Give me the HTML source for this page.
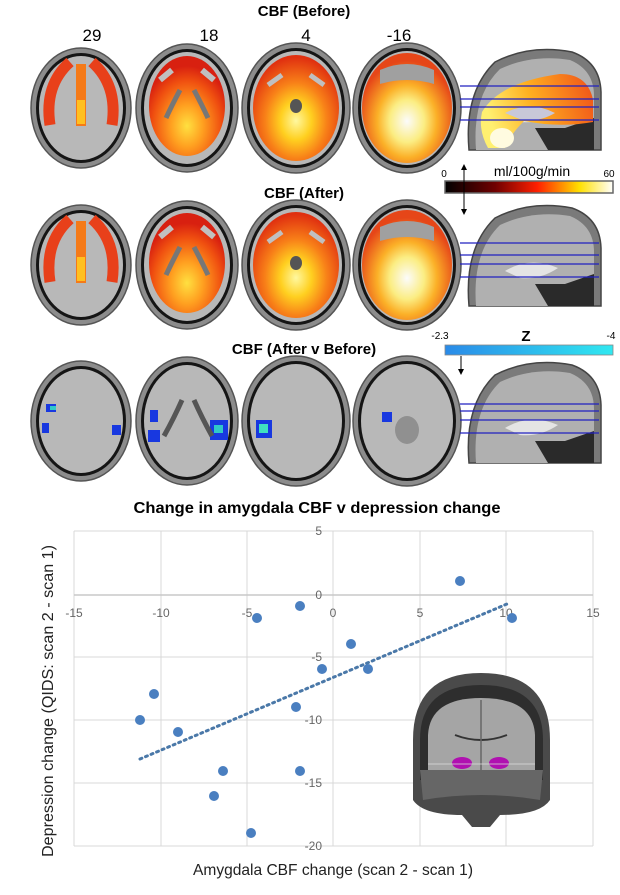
<!DOCTYPE html>
<html><head><meta charset="utf-8"><style>
html,body{margin:0;padding:0;background:#fff;}
svg{display:block;}
</style></head><body>
<svg width="620" height="895" viewBox="0 0 620 895" xmlns="http://www.w3.org/2000/svg" font-family="Liberation Sans, sans-serif">
<defs>
<radialGradient id="hot2" cx="0.5" cy="0.7" r="0.6"><stop offset="0" stop-color="#ffe040"/><stop offset="0.35" stop-color="#ffa020"/><stop offset="0.75" stop-color="#f05010"/><stop offset="1" stop-color="#d82010"/></radialGradient>
<radialGradient id="hot3" cx="0.5" cy="0.62" r="0.6"><stop offset="0" stop-color="#fff8a0"/><stop offset="0.3" stop-color="#ffd020"/><stop offset="0.6" stop-color="#f88018"/><stop offset="1" stop-color="#e03010"/></radialGradient>
<radialGradient id="hot4" cx="0.5" cy="0.62" r="0.55"><stop offset="0" stop-color="#ffffff"/><stop offset="0.35" stop-color="#fff080"/><stop offset="0.6" stop-color="#ffb020"/><stop offset="1" stop-color="#e84010"/></radialGradient>
<linearGradient id="cbar" x1="0" x2="1"><stop offset="0" stop-color="#000"/><stop offset="0.3" stop-color="#700000"/><stop offset="0.55" stop-color="#ff2000"/><stop offset="0.8" stop-color="#ffe000"/><stop offset="1" stop-color="#fff"/></linearGradient>
<linearGradient id="zbar" x1="0" x2="1"><stop offset="0" stop-color="#2a8ae8"/><stop offset="1" stop-color="#30e8f0"/></linearGradient>
<linearGradient id="sagHot" x1="0" x2="1" y1="0.2" y2="0"><stop offset="0" stop-color="#fff070"/><stop offset="0.4" stop-color="#ffb020"/><stop offset="1" stop-color="#f05018"/></linearGradient>
</defs>

<g font-weight="bold" font-size="15" text-anchor="middle" fill="#000">
<text x="304" y="16">CBF (Before)</text>
<text x="304" y="198">CBF (After)</text>
<text x="304" y="354">CBF (After v Before)</text>
</g>
<g font-size="17" text-anchor="middle" fill="#000">
<text x="92" y="41">29</text><text x="209" y="41">18</text><text x="306" y="41">4</text><text x="399" y="41">-16</text>
</g>

<g id="r1">
 <g stroke="#555" stroke-width="1.5">
  <ellipse cx="81" cy="108" rx="50" ry="60" fill="#8c8c8c"/>
  <ellipse cx="187" cy="108" rx="51" ry="64" fill="#8c8c8c"/>
  <ellipse cx="296" cy="108" rx="54" ry="65" fill="#8c8c8c"/>
  <ellipse cx="407" cy="108" rx="54" ry="65" fill="#8c8c8c"/>
 </g>
 <g fill="#151515">
  <ellipse cx="81" cy="108" rx="45" ry="55"/><ellipse cx="187" cy="108" rx="46" ry="59"/>
  <ellipse cx="296" cy="108" rx="49" ry="60"/><ellipse cx="407" cy="108" rx="49" ry="60"/>
 </g>
 <g fill="#b8b8b8">
  <ellipse cx="81" cy="108" rx="42" ry="52"/><ellipse cx="187" cy="108" rx="43" ry="56"/>
  <ellipse cx="296" cy="108" rx="46" ry="57"/><ellipse cx="407" cy="108" rx="46" ry="57"/>
 </g>
</g>
<use href="#r1" y="157"/>
<use href="#r1" y="313"/>

<g id="hot">
 <path d="M50 125 Q44 85 70 62 M112 125 Q118 85 92 62" stroke="#e8401a" stroke-width="11" fill="none"/>
 <rect x="76" y="64" width="10" height="62" fill="#f57a18"/>
 <rect x="77" y="100" width="8" height="24" fill="#ffc020"/>
 <ellipse cx="187" cy="106" rx="38" ry="50" fill="url(#hot2)"/>
 <path d="M180 90 q-8 15 -14 28 M194 90 q8 15 14 28" stroke="#777" stroke-width="5" fill="none"/>
 <path d="M172 70 l-12 10 M202 70 l12 10" stroke="#c0c0c0" stroke-width="6"/>
 <ellipse cx="296" cy="108" rx="43" ry="53" fill="url(#hot3)"/>
 <ellipse cx="296" cy="106" rx="6" ry="7" fill="#555"/>
 <path d="M282 75 l-14 10 M310 75 l14 10" stroke="#c0c0c0" stroke-width="5"/>
 <ellipse cx="407" cy="108" rx="45" ry="55" fill="url(#hot4)" opacity="0.95"/>
 <path d="M380 70 q27 -12 54 0 l0 14 q-27 -8 -54 0z" fill="#a0a0a0"/>
</g>
<use href="#hot" y="157"/>

<g fill="#1838e0">
 <rect x="46" y="404" width="10" height="8"/><rect x="50" y="406" width="6" height="4" fill="#30c8c8"/>
 <rect x="42" y="423" width="7" height="10"/><rect x="112" y="425" width="9" height="10"/>
 <rect x="150" y="410" width="8" height="12"/><rect x="148" y="430" width="12" height="12"/>
 <rect x="210" y="420" width="18" height="20"/><rect x="214" y="425" width="9" height="8" fill="#30c8c8"/>
 <rect x="256" y="420" width="16" height="18"/><rect x="259" y="424" width="9" height="9" fill="#40e0c0"/>
 <rect x="382" y="412" width="10" height="10"/>
</g>
<g fill="#6a6a6a">
 <path d="M182 400 q-8 18 -18 36 M194 400 q8 18 18 36" stroke="#555" stroke-width="5" fill="none"/>
 <ellipse cx="407" cy="430" rx="12" ry="14" fill="#909090"/>
</g>

<g id="sag">
 <path d="M469 150 Q464 92 495 62 Q530 44 572 52 Q600 62 601 92 L601 150 Z" fill="#7a7a7a" stroke="#444" stroke-width="1.5"/>
 <path d="M476 150 Q472 96 500 69 Q532 54 570 60 Q594 70 594 96 L594 150 Z" fill="#b0b0b0"/>
 <path d="M505 115 Q530 100 558 112 Q540 124 520 122 Z" fill="#e4e4e4"/>
 <path d="M535 128 L548 150 L594 150 L594 118 L565 128 Z" fill="#2a2a2a"/>
</g>
<use href="#sag" y="156"/>
<use href="#sag" y="313"/>
<g id="sagHot">
 <path d="M482 112 Q500 82 560 74 Q588 74 593 100 L593 122 Q560 128 524 121 Q510 135 505 148 L488 148 Q478 130 482 112Z" fill="url(#sagHot)"/>
 <path d="M505 113 Q530 100 555 113 Q540 122 522 120 Z" fill="#c8c8d8"/>
 <ellipse cx="502" cy="138" rx="12" ry="10" fill="#fffbe0"/>
</g>
<use href="#sagHot" y="156"/>
<g stroke="#2020c0" stroke-width="1.3">
 <line x1="460" y1="86" x2="599" y2="86"/><line x1="460" y1="99" x2="599" y2="99"/><line x1="460" y1="107" x2="599" y2="107"/><line x1="460" y1="120" x2="599" y2="120"/>
 <line x1="460" y1="243" x2="599" y2="243"/><line x1="460" y1="255" x2="599" y2="255"/><line x1="460" y1="264" x2="599" y2="264"/><line x1="460" y1="277" x2="599" y2="277"/>
 <line x1="460" y1="404" x2="599" y2="404"/><line x1="460" y1="411" x2="599" y2="411"/><line x1="460" y1="420" x2="599" y2="420"/><line x1="460" y1="433" x2="599" y2="433"/>
</g>

<rect x="445" y="181" width="168" height="12" fill="url(#cbar)" stroke="#666" stroke-width="1.5"/>
<text x="444" y="177" font-size="10" text-anchor="middle">0</text>
<text x="532" y="176" font-size="14" text-anchor="middle">ml/100g/min</text>
<text x="609" y="177" font-size="10" text-anchor="middle">60</text>
<line x1="464" y1="168" x2="464" y2="212" stroke="#000" stroke-width="1"/>
<path d="M461 170 L464 164 L467 170Z M461 209 L464 215 L467 209Z" fill="#000"/>
<rect x="445" y="345" width="168" height="10" fill="url(#zbar)" stroke="#888" stroke-width="0.8"/>
<text x="440" y="339" font-size="10" text-anchor="middle">-2.3</text>
<text x="526" y="341" font-size="15" font-weight="bold" text-anchor="middle">Z</text>
<text x="611" y="339" font-size="10" text-anchor="middle">-4</text>
<line x1="461" y1="356" x2="461" y2="372" stroke="#000"/>
<path d="M458 369 L461 375 L464 369Z" fill="#000"/>

<text x="317" y="513" font-size="16" font-weight="bold" text-anchor="middle" textLength="367" lengthAdjust="spacingAndGlyphs">Change in amygdala CBF v depression change</text>
<g stroke="#d9d9d9" stroke-width="1">
 <line x1="74" y1="531" x2="593" y2="531"/><line x1="74" y1="657" x2="593" y2="657"/><line x1="74" y1="720" x2="593" y2="720"/><line x1="74" y1="783" x2="593" y2="783"/><line x1="74" y1="846" x2="593" y2="846"/>
 <line x1="74" y1="531" x2="74" y2="846"/><line x1="161" y1="531" x2="161" y2="846"/><line x1="247" y1="531" x2="247" y2="846"/><line x1="333" y1="531" x2="333" y2="846"/><line x1="420" y1="531" x2="420" y2="846"/><line x1="506" y1="531" x2="506" y2="846"/><line x1="593" y1="531" x2="593" y2="846"/>
</g>
<line x1="74" y1="595" x2="593" y2="595" stroke="#c8c8c8" stroke-width="1.5"/>
<g font-size="12" fill="#666" text-anchor="middle">
 <text x="74" y="617">-15</text><text x="161" y="617">-10</text><text x="247" y="617">-5</text><text x="333" y="617">0</text><text x="420" y="617">5</text><text x="506" y="617">10</text><text x="593" y="617">15</text>
</g>
<g font-size="12" fill="#666" text-anchor="end">
 <text x="322" y="535">5</text><text x="322" y="599">0</text><text x="322" y="661">-5</text><text x="322" y="724">-10</text><text x="322" y="787">-15</text><text x="322" y="850">-20</text>
</g>
<line x1="140" y1="759" x2="507" y2="604" stroke="#4a78a8" stroke-width="3" stroke-dasharray="2 4" stroke-linecap="round"/>

<g>
 <path d="M413 800 L413 740 Q413 673 481 673 Q550 673 550 740 L550 800 Q540 815 500 815 L490 827 L472 827 L462 815 Q423 815 413 800Z" fill="#4a4a4a"/>
 <path d="M420 780 L420 740 Q420 685 481 685 Q543 685 543 740 L543 780 Z" fill="#2e2e2e"/>
 <path d="M428 770 L428 735 Q430 698 481 698 Q533 698 535 735 L535 770 Z" fill="#a5a5a5"/>
 <path d="M455 735 Q481 745 507 735" stroke="#333" stroke-width="2" fill="none"/>
 <line x1="481" y1="700" x2="481" y2="770" stroke="#666" stroke-width="1.5"/>
 <path d="M420 770 L543 770 L540 800 Q481 790 423 800Z" fill="#666"/>
 <ellipse cx="462" cy="763" rx="10" ry="6" fill="#b010b0"/>
 <ellipse cx="499" cy="763" rx="10" ry="6" fill="#b010b0"/>
 <line x1="428" y1="764" x2="535" y2="764" stroke="#ddd" stroke-width="0.8"/>
</g>

<g fill="#4a7fc0">
 <circle cx="460" cy="581" r="5"/><circle cx="300" cy="606" r="5"/><circle cx="257" cy="618" r="5"/><circle cx="512" cy="618" r="5"/>
 <circle cx="351" cy="644" r="5"/><circle cx="322" cy="669" r="5"/><circle cx="368" cy="669" r="5"/><circle cx="154" cy="694" r="5"/>
 <circle cx="296" cy="707" r="5"/><circle cx="140" cy="720" r="5"/><circle cx="178" cy="732" r="5"/><circle cx="223" cy="771" r="5"/>
 <circle cx="300" cy="771" r="5"/><circle cx="214" cy="796" r="5"/><circle cx="251" cy="833" r="5"/>
</g>
<text x="333" y="875" font-size="16" fill="#222" text-anchor="middle" textLength="280" lengthAdjust="spacingAndGlyphs">Amygdala CBF change (scan 2 - scan 1)</text>
<text transform="translate(53 701) rotate(-90)" font-size="16" fill="#222" text-anchor="middle" textLength="312" lengthAdjust="spacingAndGlyphs">Depression change (QIDS: scan 2 - scan 1)</text>
</svg>
</body></html>
